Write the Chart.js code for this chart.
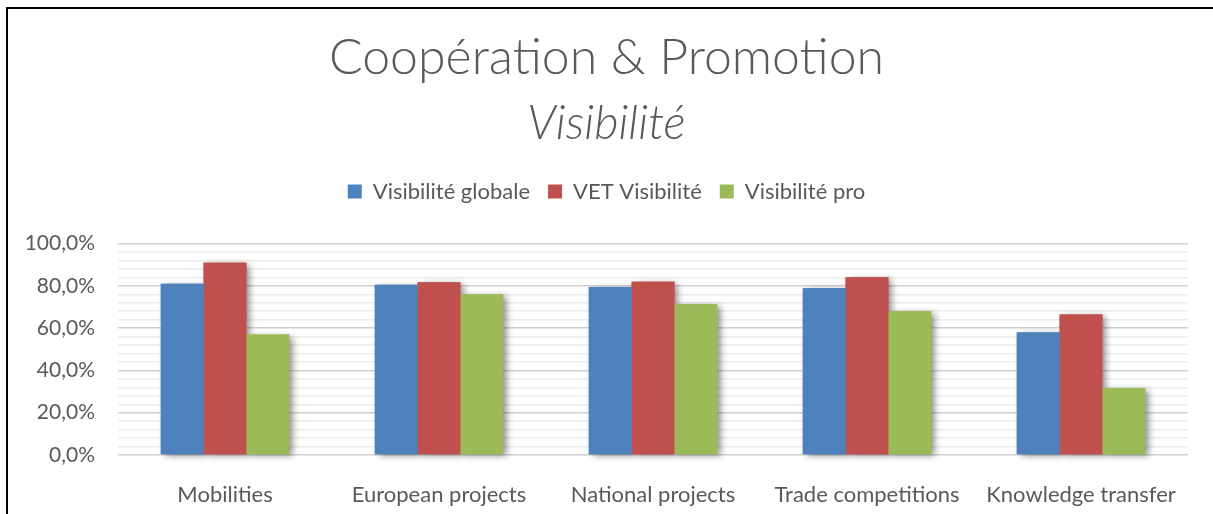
<!DOCTYPE html>
<html>
<head>
<meta charset="utf-8">
<script src="https://cdn.jsdelivr.net/npm/chart.js@4/dist/chart.umd.min.js"></script>
<style>
  html, body { margin: 0; padding: 0; background: #fff; }
  #wrap { position: relative; width: 1213px; height: 514px; }
  #frame {
    position: absolute; left: 6px; top: 7px; right: 0; bottom: 0;
    border-left: 2px solid #000; border-top: 2px solid #000;
    pointer-events: none;
  }
</style>
</head>
<body>
<div id="wrap">
  <canvas id="chart" width="1213" height="514"></canvas>
  <div id="frame"></div>
</div>
<script>
const categories = ["Mobilities", "European projects", "National projects", "Trade competitions", "Knowledge transfer"];
const seriesNames = ["Visibilité globale", "VET Visibilité", "Visibilité pro"];
const visGlobale = [81.0, 80.5, 79.5, 78.9, 58.0];
const vetVisibilite = [91.0, 81.7, 82.0, 84.1, 66.5];
const visPro = [57.0, 76.0, 71.3, 68.0, 31.6];
const colors = ["#4F81BD", "#C0504D", "#9BBB59"];

const textColor = "#595959";
const fontFamily = "Lato, 'Open Sans', sans-serif";

// draw soft drop shadows of all bars before the bars themselves
const barShadow = {
  id: "barShadow",
  beforeDatasetsDraw(chart) {
    const ctx = chart.ctx;
    ctx.save();
    ctx.shadowColor = "rgba(0,0,0,0.45)";
    ctx.shadowBlur = 7;
    ctx.shadowOffsetX = 4;
    ctx.shadowOffsetY = 2;
    chart.data.datasets.forEach((ds, i) => {
      const meta = chart.getDatasetMeta(i);
      ctx.fillStyle = ds.backgroundColor;
      meta.data.forEach((bar) => {
        const p = bar.getProps(["x", "y", "base", "width"], true);
        ctx.fillRect(p.x - p.width / 2, p.y, p.width, p.base - p.y);
      });
    });
    ctx.restore();
  },
};

// extra space between legend and plot area
const legendGap = {
  id: "legendGap",
  beforeInit(chart) {
    const fit = chart.legend.fit;
    chart.legend.fit = function () {
      fit.bind(chart.legend)();
      this.height += 31;
    };
  },
};

const ctx = document.getElementById("chart").getContext("2d");
new Chart(ctx, {
  type: "bar",
  data: {
    labels: categories,
    datasets: [
      { label: seriesNames[0], data: visGlobale, backgroundColor: colors[0] },
      { label: seriesNames[1], data: vetVisibilite, backgroundColor: colors[1] },
      { label: seriesNames[2], data: visPro, backgroundColor: colors[2] },
    ],
  },
  options: {
    responsive: false,
    animation: false,
    layout: { padding: 0 },
    datasets: {
      bar: { categoryPercentage: 0.6, barPercentage: 1.0 },
    },
    plugins: {
      title: {
        display: true,
        text: "Coopération & Promotion",
        color: textColor,
        font: { family: fontFamily, size: 50, weight: "300" },
        padding: { top: 28, bottom: 0 },
      },
      subtitle: {
        display: true,
        text: "Visibilité",
        color: textColor,
        font: { family: fontFamily, size: 47, style: "italic", weight: "300" },
        padding: { top: 8, bottom: 10.2 },
      },
      legend: {
        position: "top",
        labels: {
          color: textColor,
          font: { family: fontFamily, size: 22 },
          boxWidth: 14,
          boxHeight: 14,
          padding: 18,
        },
      },
      tooltip: { enabled: false },
    },
    scales: {
      x: {
        grid: { display: false },
        border: { display: false },
        ticks: {
          color: textColor,
          font: { family: fontFamily, size: 22 },
          padding: 19,
          maxRotation: 0,
        },
        afterFit: (s) => { s.height = 59; },
      },
      y: {
        min: 0,
        max: 100,
        border: { display: false },
        grid: {
          drawTicks: false,
          color: (c) => (c.tick && c.tick.value % 20 === 0 ? "#D0D0D0" : "#ECECEC"),
          lineWidth: 1.5,
        },
        ticks: {
          stepSize: 4,
          autoSkip: false,
          padding: 23,
          color: textColor,
          font: { family: fontFamily, size: 21 },
          callback: (v) => (v % 20 === 0 ? v.toFixed(1).replace(".", ",") + "%" : ""),
        },
        afterFit: (s) => { s.width = 118; },
      },
      // empty right margin so the titles stay centred on the whole canvas
      yRight: {
        position: "right",
        grid: { display: false },
        border: { display: false },
        ticks: { display: false },
        afterFit: (s) => { s.width = 25; },
      },
    },
  },
  plugins: [barShadow, legendGap],
});
</script>
</body>
</html>
